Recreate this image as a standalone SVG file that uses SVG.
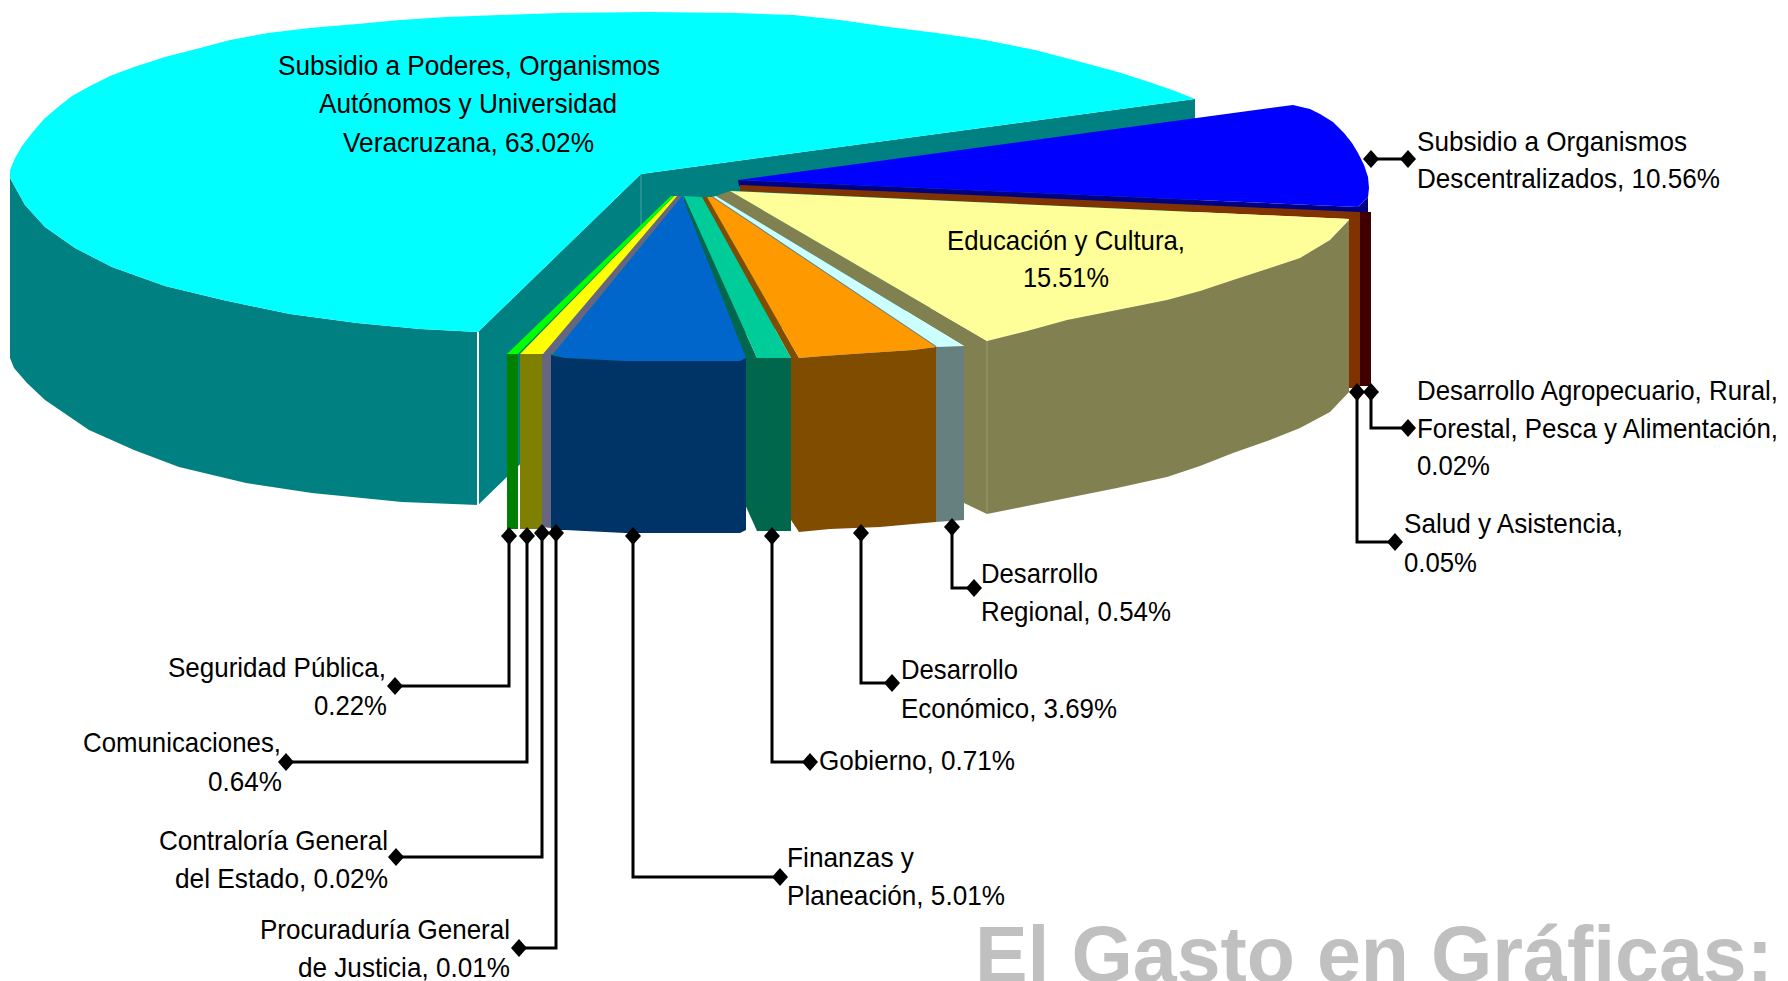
<svg xmlns="http://www.w3.org/2000/svg" width="1788" height="981" viewBox="0 0 1788 981">
<style>
.t{font-family:"Liberation Sans",Arial,sans-serif;font-size:28px;fill:#000}
.ttl{font-family:"Liberation Sans",Arial,sans-serif;font-size:80px;font-weight:bold;fill:#C0C0C0}
.c{fill:none;stroke:#000;stroke-width:3}
</style>
<defs><path id="dm" d="M0,-9L8,0L0,9L-8,0Z" fill="#000"/></defs>
<rect width="1788" height="981" fill="#fff"/>

<g id="subsidio-poderes">
<polygon fill="#008080" points="478,332 641,174 1195,99 1195,272 641,347 478,505"/>
<line x1="641" y1="174" x2="641" y2="228" stroke="#4aa3a3" stroke-width="1"/>
<path fill="#008080" d="M10,178 L25,205 L45,227 L75,248 L112,267 L165,286 L223,300 L290,314 L357,323 L420,329 L478,332 L478,505 L402,502 L312,493 L246,483 L179,467 L134,450 L89,430 L45,400 L27,383 L14,368 L10,358 Z"/>
<path fill="#00FFFF" d="M478,332 L641,174 L1195,99 L1175,91 L1152,83 L1118,72 L1081,62 L1035,50 L985,40 L937,33 L889,27 L840,20 L794,15 L736,13 L650,12 L560,13 L500,15 L446,17 L400,20 L357,24 L310,28 L268,33 L230,40 L200,48 L165,57 L134,67 L110,76 L90,86 L72,96 L58,107 L44,119 L32,133 L22,146 L15,158 L10,170 L10,178 L25,205 L45,227 L75,248 L112,267 L165,286 L223,300 L290,314 L357,323 L420,329 Z"/>
<line x1="478" y1="332" x2="478" y2="505" stroke="#fff" stroke-width="2"/>
<text class="t" x="278" y="75" textLength="382" lengthAdjust="spacingAndGlyphs">Subsidio a Poderes, Organismos</text>
<text class="t" x="319" y="113" textLength="298" lengthAdjust="spacingAndGlyphs">Autónomos y Universidad</text>
<text class="t" x="343" y="152" textLength="251" lengthAdjust="spacingAndGlyphs">Veracruzana, 63.02%</text>
</g>

<g id="subsidio-descentralizados">
<polygon fill="#000080" points="738,180 1358,207 1368,197 1368,213 1360,213 739,186"/>
<path fill="#0000FF" d="M738.5,180 L1293,105 L1310,109 L1320,114 L1333,122 L1344,133 L1352,143 L1358,153 L1364,165 L1368,177 L1369,188 L1368,197 L1358,207 Z"/>
<text class="t" x="1417" y="151" textLength="270" lengthAdjust="spacingAndGlyphs">Subsidio a Organismos</text>
<text class="t" x="1417" y="188" textLength="303" lengthAdjust="spacingAndGlyphs">Descentralizados, 10.56%</text>
</g>

<g id="desarrollo-agropecuario">
<polygon fill="#803300" points="740,185 1360,212 1360,219 1349,219 740,191"/>
<rect x="1349" y="212" width="11" height="176" fill="#803300"/>
<text class="t" x="1417" y="400" textLength="361" lengthAdjust="spacingAndGlyphs">Desarrollo Agropecuario, Rural,</text>
<text class="t" x="1417" y="438" textLength="361" lengthAdjust="spacingAndGlyphs">Forestal, Pesca y Alimentación,</text>
<text class="t" x="1417" y="475" textLength="73" lengthAdjust="spacingAndGlyphs">0.02%</text>
</g>

<g id="salud">
<rect x="1360" y="212" width="11" height="174" fill="#400000"/>
<text class="t" x="1404" y="533" textLength="219" lengthAdjust="spacingAndGlyphs">Salud y Asistencia,</text>
<text class="t" x="1404" y="572" textLength="73" lengthAdjust="spacingAndGlyphs">0.05%</text>
</g>

<g id="educacion">
<polygon fill="#808050" points="716,196 730,191 987,341 987,514 964,503 964,346"/>
<path fill="#FFFF99" d="M730,191 L1349,219 L1330,240 L1300,258 L1270,268 L1233,280 L1200,291 L1167,300 L1117,310 L1067,320 L1027,331 L987,341 Z"/>
<path fill="#808050" d="M987,341 L1027,331 L1067,320 L1117,310 L1167,300 L1200,291 L1233,280 L1270,268 L1300,258 L1330,240 L1349,220 L1349,392 L1330,412 L1300,428 L1270,440 L1233,453 L1200,466 L1167,477 L1117,488 L1067,498 L1027,506 L987,514 Z"/>
<line x1="987" y1="341" x2="987" y2="514" stroke="#9a9a70" stroke-width="1"/>
<text class="t" x="947" y="250" textLength="238" lengthAdjust="spacingAndGlyphs">Educación y Cultura,</text>
<text class="t" x="1023" y="287" textLength="86" lengthAdjust="spacingAndGlyphs">15.51%</text>
</g>

<g id="desarrollo-regional">
<polygon fill="#CCFFFF" points="712,197 936,347 964,346 716,196"/>
<line x1="712" y1="197" x2="936" y2="347" stroke="#668080" stroke-width="2"/>
<polygon fill="#668080" points="936,347 964,346 964,520 936,522"/>
<text class="t" x="981" y="583" textLength="117" lengthAdjust="spacingAndGlyphs">Desarrollo</text>
<text class="t" x="981" y="621" textLength="190" lengthAdjust="spacingAndGlyphs">Regional, 0.54%</text>
</g>

<g id="desarrollo-economico">
<polygon fill="#804C00" points="702,197 707,197 799,358 799,532 791,520 791,358"/>
<polygon fill="#FF9900" points="707,197 799,358 823,356 867,353 913,350 936,347 712,197"/>
<polygon fill="#804C00" points="799,358 823,356 867,353 913,350 936,347 936,522 913,524 880,527 830,529 799,532"/>
<text class="t" x="901" y="679" textLength="117" lengthAdjust="spacingAndGlyphs">Desarrollo</text>
<text class="t" x="901" y="718" textLength="216" lengthAdjust="spacingAndGlyphs">Económico, 3.69%</text>
</g>

<g id="gobierno">
<polygon fill="#00664C" points="684,196 757,358 757,531 684,369"/>
<polygon fill="#00CC99" points="684,196 757,358 791,358 702,197"/>
<rect x="757" y="358" width="34" height="173" fill="#00664C"/>
<text class="t" x="819" y="770" textLength="196" lengthAdjust="spacingAndGlyphs">Gobierno, 0.71%</text>
</g>

<g id="finanzas">
<polygon fill="#0066CC" points="553,354 682,196 746,358 740,361 625,361 565,358"/>
<polygon fill="#003366" points="551,355 565,358 625,361 740,361 746,358 746,530 740,533 625,533 565,530 551,530"/>
<text class="t" x="787" y="867" textLength="127" lengthAdjust="spacingAndGlyphs">Finanzas y</text>
<text class="t" x="787" y="905" textLength="218" lengthAdjust="spacingAndGlyphs">Planeación, 5.01%</text>
</g>

<g id="procuraduria">
<text class="t" x="260" y="939" textLength="250" lengthAdjust="spacingAndGlyphs">Procuraduría General</text>
<text class="t" x="298" y="977" textLength="212" lengthAdjust="spacingAndGlyphs">de Justicia, 0.01%</text>
</g>

<g id="contraloria">
<polygon fill="#666680" points="543,353 553,354 682,196 677,196"/>
<polygon fill="#666680" points="542,351 551,354 551,528 542,527"/>
<text class="t" x="159" y="850" textLength="229" lengthAdjust="spacingAndGlyphs">Contraloría General</text>
<text class="t" x="175" y="888" textLength="213" lengthAdjust="spacingAndGlyphs">del Estado, 0.02%</text>
</g>

<g id="comunicaciones">
<polygon fill="#FFFF00" points="520,354 543,354 677,196 674,196"/>
<rect x="520" y="354" width="22" height="175" fill="#808000"/>
<text class="t" x="83" y="752" textLength="198" lengthAdjust="spacingAndGlyphs">Comunicaciones,</text>
<text class="t" x="208" y="791" textLength="74" lengthAdjust="spacingAndGlyphs">0.64%</text>
</g>

<g id="seguridad">
<polygon fill="#00FF00" points="507,354 518,354 674,196 671,196"/>
<rect x="507" y="354" width="11" height="175" fill="#008000"/>
<text class="t" x="168" y="677" textLength="218" lengthAdjust="spacingAndGlyphs">Seguridad Pública,</text>
<text class="t" x="314" y="715" textLength="73" lengthAdjust="spacingAndGlyphs">0.22%</text>
</g>

<g id="connectors">
<path class="c" d="M1371,159H1408"/>
<path class="c" d="M1371,392V428H1408"/>
<path class="c" d="M1357,392V542H1395"/>
<path class="c" d="M952,527V588H974"/>
<path class="c" d="M861,533V683H892"/>
<path class="c" d="M772,536V762H810"/>
<path class="c" d="M633,536V877H780"/>
<path class="c" d="M509,536V686H395"/>
<path class="c" d="M527,536V762H286"/>
<path class="c" d="M542,533V857H396"/>
<path class="c" d="M556,533V948H519"/>
<use href="#dm" x="1371" y="159"/><use href="#dm" x="1408" y="159"/>
<use href="#dm" x="1371" y="392"/><use href="#dm" x="1408" y="428"/>
<use href="#dm" x="1357" y="392"/><use href="#dm" x="1395" y="542"/>
<use href="#dm" x="952" y="527"/><use href="#dm" x="974" y="588"/>
<use href="#dm" x="861" y="533"/><use href="#dm" x="892" y="683"/>
<use href="#dm" x="772" y="536"/><use href="#dm" x="810" y="762"/>
<use href="#dm" x="633" y="536"/><use href="#dm" x="780" y="877"/>
<use href="#dm" x="509" y="536"/><use href="#dm" x="395" y="686"/>
<use href="#dm" x="527" y="536"/><use href="#dm" x="286" y="762"/>
<use href="#dm" x="542" y="533"/><use href="#dm" x="396" y="857"/>
<use href="#dm" x="556" y="533"/><use href="#dm" x="519" y="948"/>
</g>

<g id="title">
<text class="ttl" x="975" y="982" textLength="798" lengthAdjust="spacingAndGlyphs">El Gasto en Gráficas:</text>
</g>
</svg>
